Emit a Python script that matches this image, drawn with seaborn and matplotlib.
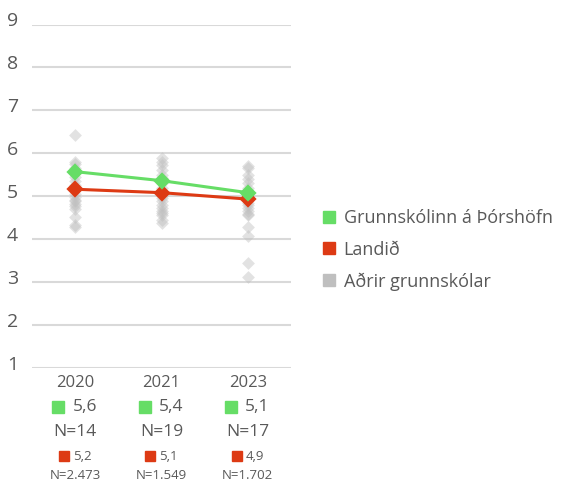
import matplotlib
matplotlib.use("Agg")
import matplotlib.pyplot as plt
import matplotlib.transforms as mtransforms
from matplotlib.lines import Line2D
import seaborn as sns
import pandas as pd

years = ["2020", "2021", "2023"]
school_vals = [5.57, 5.36, 5.08]
land_vals = [5.16, 5.08, 4.93]
school_labels = ["5,6", "5,4", "5,1"]
school_n = ["N=14", "N=19", "N=17"]
land_labels = ["5,2", "5,1", "4,9"]
land_n = ["N=2.473", "N=1.549", "N=1.702"]
others_2020 = [6.42, 5.80, 5.75, 5.65, 5.55, 5.45, 5.35, 5.25, 5.15, 5.05, 4.98,
               4.92, 4.88, 4.82, 4.78, 4.70, 4.52, 4.33, 4.28]
others_2021 = [5.88, 5.80, 5.72, 5.60, 5.50, 5.42, 5.30, 5.20, 5.10, 5.00, 4.95,
               4.88, 4.80, 4.72, 4.65, 4.60, 4.55, 4.45, 4.37]
others_2023 = [5.70, 5.65, 5.50, 5.40, 5.30, 5.20, 5.10, 5.00, 4.95, 4.90, 4.85,
               4.80, 4.72, 4.65, 4.58, 4.55, 4.28, 4.07, 3.45, 3.12]
legend_labels = ["Grunnskólinn á Þórshöfn", "Landið", "Aðrir grunnskólar"]

GREEN = "#66dd66"
RED = "#dd3a14"
GRAY = "#bfbfbf"
TXT = "#595959"

sns.set_theme(style="white")
plt.rcParams["font.family"] = ["Open Sans", "DejaVu Sans"]

others_df = pd.DataFrame({
    "year": [years[0]] * len(others_2020) + [years[1]] * len(others_2021) + [years[2]] * len(others_2023),
    "value": others_2020 + others_2021 + others_2023,
})
school_df = pd.DataFrame({"year": years, "value": school_vals})
land_df = pd.DataFrame({"year": years, "value": land_vals})

fig = plt.figure(figsize=(5.62, 4.83), dpi=100)
ax = fig.add_axes([32 / 562, 1 - 367.7 / 483, (291 - 32) / 562, (367.7 - 24.5) / 483])

sns.stripplot(data=others_df, x="year", y="value", order=years, jitter=False,
              marker="D", color=GRAY, alpha=0.45, size=6.5, linewidth=0, ax=ax, zorder=2)
sns.pointplot(data=land_df, x="year", y="value", order=years, color=RED,
              markers="D", markersize=7.5, linewidth=2.2, ax=ax, zorder=4)
sns.pointplot(data=school_df, x="year", y="value", order=years, color=GREEN,
              markers="D", markersize=7.5, linewidth=2.2, ax=ax, zorder=5)

ax.set_xlim(-0.5, 2.5)
ax.set_ylim(1, 9)
ax.set_yticks(range(1, 10))
ax.yaxis.grid(True, color="#d9d9d9", linewidth=1.5, zorder=0)
ax.set_axisbelow(True)
for s in ax.spines.values():
    s.set_visible(False)
ax.set_xlabel("")
ax.set_ylabel("")
ax.tick_params(axis="y", length=0, pad=10, labelsize=14, labelcolor=TXT)
ax.tick_params(axis="x", length=0, pad=5, labelsize=12, labelcolor=TXT)
shift = mtransforms.ScaledTranslation(0, 5 / 100, fig.dpi_scale_trans)
for lab in ax.get_yticklabels():
    lab.set_transform(lab.get_transform() + shift)

base = mtransforms.blended_transform_factory(ax.transData, ax.transAxes)
for i in range(len(years)):
    t = mtransforms.offset_copy(base, fig=fig, x=-12.2, y=-28.3, units="points")
    ax.plot([i], [0], marker="s", color=GREEN, markersize=8.5, linestyle="none",
            transform=t, clip_on=False)
    ax.annotate(school_labels[i], xy=(i, 0), xycoords=base, xytext=(-2, -28.3),
                textcoords="offset points", ha="left", va="center", fontsize=12.5, color=TXT)
    ax.annotate(school_n[i], xy=(i, 0), xycoords=base, xytext=(0, -46.3),
                textcoords="offset points", ha="center", va="center", fontsize=12.5, color=TXT)
    t2 = mtransforms.offset_copy(base, fig=fig, x=-8, y=-63.6, units="points")
    ax.plot([i], [0], marker="s", color=RED, markersize=6.5, linestyle="none",
            transform=t2, clip_on=False)
    ax.annotate(land_labels[i], xy=(i, 0), xycoords=base, xytext=(-1.5, -63.6),
                textcoords="offset points", ha="left", va="center", fontsize=9.5, color=TXT)
    ax.annotate(land_n[i], xy=(i, 0), xycoords=base, xytext=(0, -77.5),
                textcoords="offset points", ha="center", va="center", fontsize=9.5, color=TXT)

handles = [Line2D([], [], marker="s", color=c, linestyle="none", markersize=9)
           for c in (GREEN, RED, GRAY)]
fig.legend(handles, legend_labels, loc="upper left", bbox_to_anchor=(313 / 562, 1 - 200 / 483),
           frameon=False, fontsize=13, labelcolor=TXT, handlelength=0.8, handletextpad=0.4,
           labelspacing=0.75, borderpad=0)

fig.savefig("out.png", dpi=100)
